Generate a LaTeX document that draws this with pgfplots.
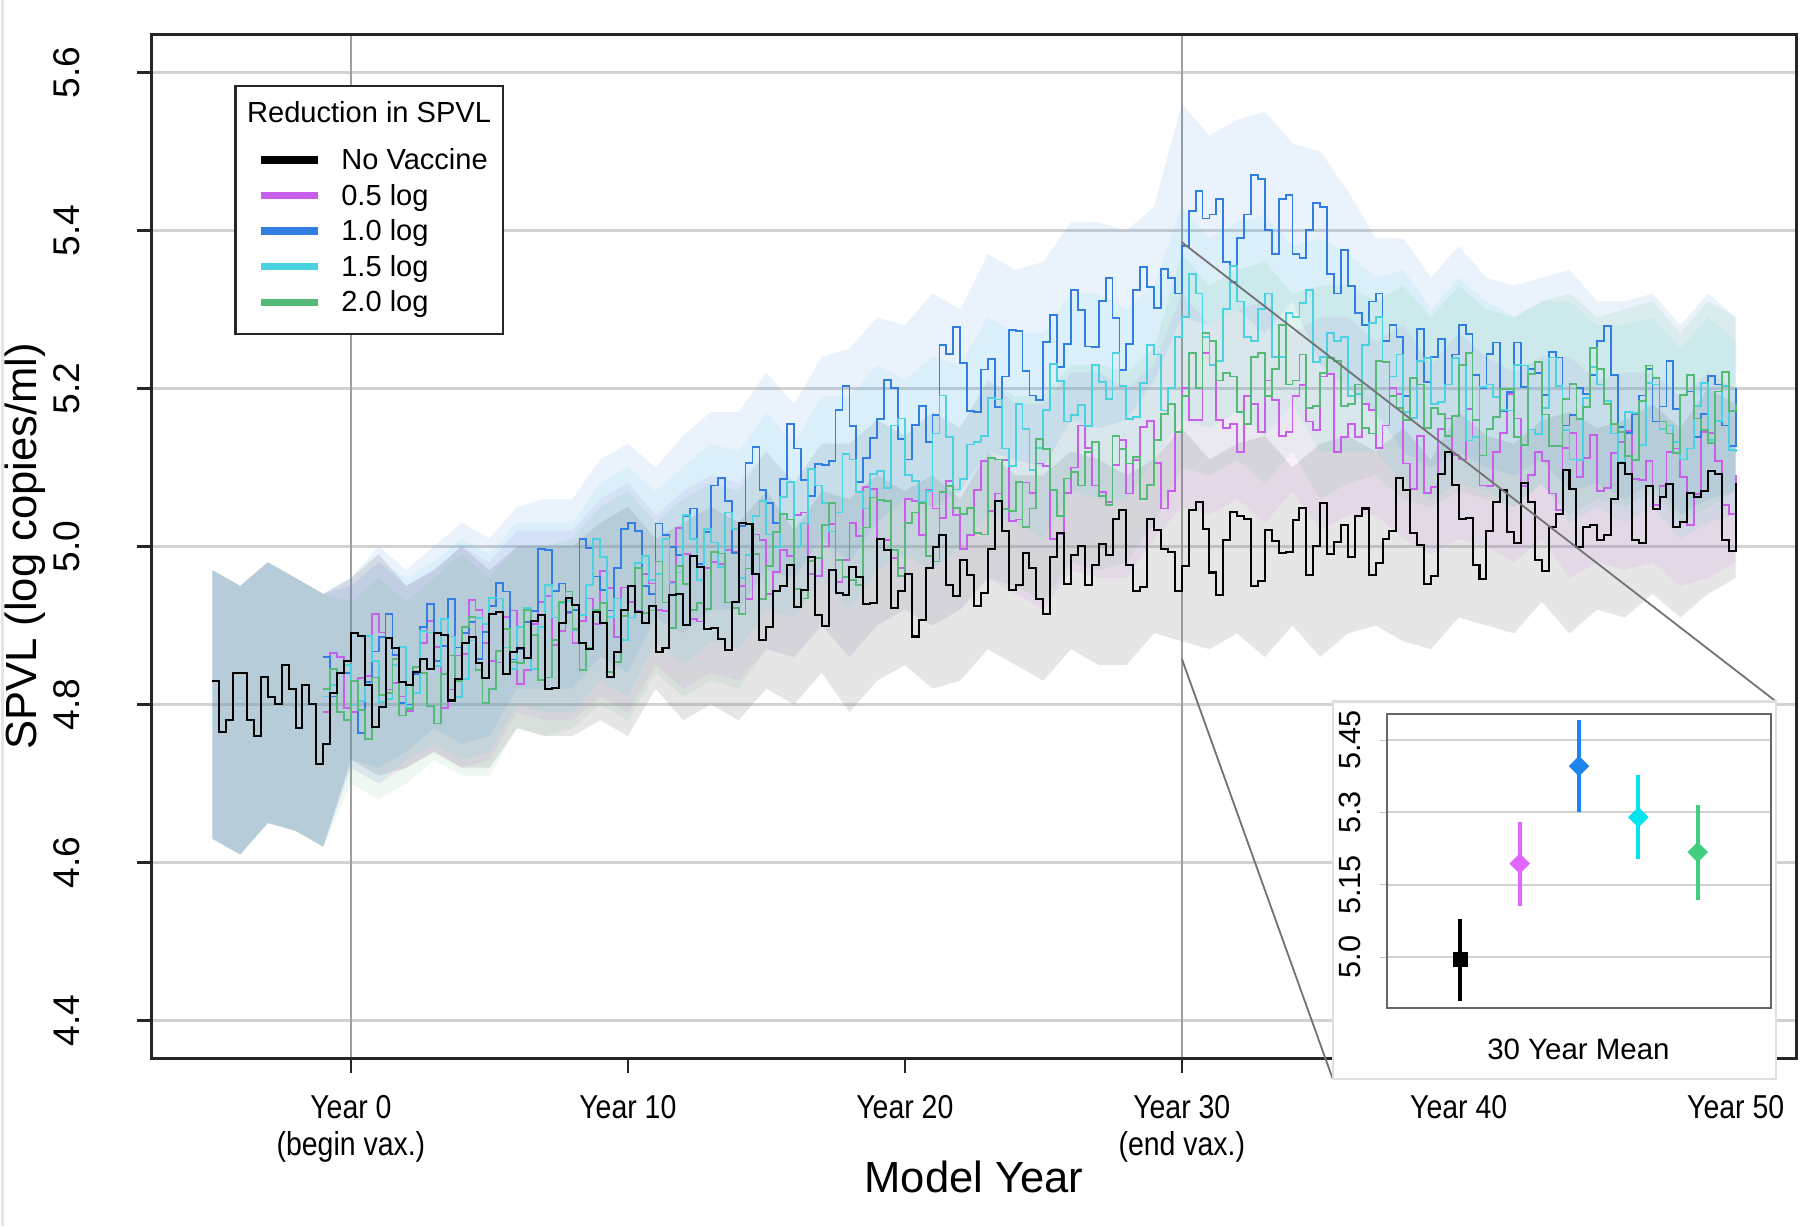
\documentclass[border=0pt]{standalone}
\usepackage{fontspec}
\setmainfont{Liberation Sans}
\newfontfamily\narrowfont{Liberation Sans}[FakeStretch=0.86]
\usepackage{pgfplots}
\pgfplotsset{compat=1.18}
\usepackage{pgfplotstable}
\usepgfplotslibrary{fillbetween}

\definecolor{magL}{RGB}{200,95,235}
\definecolor{bluL}{RGB}{50,125,225}
\definecolor{cyaL}{RGB}{75,210,225}
\definecolor{grnL}{RGB}{85,185,120}
\definecolor{magI}{RGB}{224,102,255}
\definecolor{bluI}{RGB}{28,134,238}
\definecolor{cyaI}{RGB}{0,229,238}
\definecolor{grnI}{RGB}{67,205,128}

% mean SPVL per quarter year: k = no vaccine, m = 0.5 log, b = 1.0 log, c = 1.5 log, g = 2.0 log
\pgfplotstableread{
x k m b c g
-5 4.83 nan nan nan nan
-4.75 4.765 nan nan nan nan
-4.5 4.78 nan nan nan nan
-4.25 4.84 nan nan nan nan
-4 4.84 nan nan nan nan
-3.75 4.78 nan nan nan nan
-3.5 4.76 nan nan nan nan
-3.25 4.835 nan nan nan nan
-3 4.81 nan nan nan nan
-2.75 4.80 nan nan nan nan
-2.5 4.85 nan nan nan nan
-2.25 4.82 nan nan nan nan
-2 4.77 nan nan nan nan
-1.75 4.825 nan nan nan nan
-1.5 4.80 nan nan nan nan
-1.25 4.725 nan nan nan nan
-1 4.75 4.79 4.86 4.81 4.82
-0.75 4.815 4.865 4.81 4.825 4.845
-0.5 4.84 4.86 4.84 4.84 4.79
-0.25 4.855 4.795 4.84 4.85 4.78
0 4.89 4.79 4.80 4.80 4.83
0.25 4.887 4.833 4.764 4.804 4.793
0.5 4.824 4.836 4.828 4.887 4.756
0.75 4.771 4.914 4.867 4.855 4.834
1 4.797 4.891 4.885 4.803 4.812
1.25 4.884 4.819 4.914 4.807 4.815
1.5 4.871 4.827 4.863 4.850 4.858
1.75 4.828 4.810 4.802 4.873 4.786
2 4.824 4.792 4.800 4.796 4.794
2.25 4.841 4.815 4.839 4.815 4.847
2.5 4.858 4.878 4.898 4.893 4.840
2.75 4.845 4.906 4.927 4.891 4.798
3 4.891 4.873 4.855 4.849 4.776
3.25 4.888 4.796 4.874 4.908 4.839
3.5 4.805 4.819 4.933 4.886 4.862
3.75 4.832 4.862 4.872 4.809 4.830
4 4.878 4.864 4.890 4.832 4.898
4.25 4.885 4.932 4.904 4.881 4.911
4.5 4.852 4.920 4.858 4.909 4.844
4.75 4.834 4.878 4.892 4.902 4.802
5 4.915 4.855 4.925 4.935 4.820
5.25 4.917 4.853 4.954 4.934 4.868
5.5 4.839 4.911 4.943 4.872 4.896
5.75 4.866 4.919 4.857 4.845 4.854
6 4.872 4.826 4.870 4.898 4.852
6.25 4.859 4.844 4.904 4.922 4.920
6.5 4.906 4.902 4.918 4.845 4.888
6.75 4.913 4.930 4.997 4.898 4.831
7 4.819 4.937 4.995 4.951 4.834
7.25 4.821 4.875 4.944 4.910 4.882
7.5 4.903 4.893 4.953 4.928 4.930
7.75 4.935 4.916 4.917 4.931 4.943
8 4.926 4.878 4.920 4.894 4.896
8.25 4.878 4.906 5.009 4.913 4.844
8.5 4.870 4.934 4.998 4.951 4.872
8.75 4.917 4.902 4.962 5.009 4.920
9 4.903 4.969 4.945 4.987 4.928
9.25 4.835 4.947 4.919 4.911 4.841
9.5 4.867 4.885 4.973 4.934 4.854
9.75 4.919 4.948 5.022 4.882 4.912
10 4.950 4.930 5.030 4.910 4.950
10.25 4.917 4.918 5.020 4.979 4.973
10.5 4.903 4.965 4.950 4.988 4.916
10.75 4.925 4.953 4.940 4.957 4.919
11 4.866 4.920 5.029 4.965 4.981
11.25 4.872 4.918 5.014 5.009 4.929
11.5 4.938 4.955 4.999 4.953 4.897
11.75 4.940 5.023 4.989 4.967 4.975
12 4.901 4.990 5.038 5.040 4.952
12.25 4.988 4.908 5.048 5.009 4.920
12.5 4.974 4.905 4.978 4.958 4.928
12.75 4.896 4.973 5.018 5.022 4.921
13 4.897 4.980 5.077 5.005 4.993
13.25 4.883 4.978 5.087 4.974 4.991
13.5 4.869 4.995 5.057 5.043 4.929
13.75 4.930 4.993 4.992 5.022 4.922
14 5.030 4.950 5.026 4.960 4.914
14.25 5.028 4.933 5.106 4.989 4.972
14.5 4.965 5.015 5.126 5.038 4.990
14.75 4.882 5.008 5.071 5.057 4.933
15 4.898 4.940 5.055 5.015 4.975
15.25 4.944 4.968 5.030 4.999 5.018
15.5 4.950 4.995 5.085 5.063 5.041
15.75 4.977 4.988 5.155 5.082 5.034
16 4.923 5.040 5.124 5.000 4.946
16.25 4.945 5.043 5.084 5.029 4.934
16.5 4.986 4.965 5.064 5.098 4.982
16.75 4.913 4.963 5.104 5.077 4.985
17 4.899 5.000 5.103 5.055 5.027
17.25 4.970 5.028 5.108 5.019 5.055
17.5 4.941 4.955 5.173 5.043 4.983
17.75 4.938 4.983 5.203 5.117 4.961
18 4.974 5.030 5.152 5.110 4.958
18.25 4.961 5.013 5.082 5.069 4.951
18.5 4.927 5.075 5.112 5.048 5.024
18.75 4.929 5.073 5.137 5.092 5.062
19 5.010 5.010 5.161 5.095 5.059
19.25 4.996 5.008 5.211 5.074 5.057
19.5 4.922 4.985 5.201 5.153 4.995
19.75 4.944 4.973 5.136 5.162 4.963
20 4.965 5.060 5.110 5.090 5.030
20.25 4.886 5.057 5.154 5.083 5.043
20.5 4.907 5.014 5.178 5.056 5.055
20.75 4.973 5.071 5.132 5.070 4.988
21 4.999 5.048 5.166 5.143 4.981
21.25 5.015 5.036 5.255 5.191 5.069
21.5 4.951 5.083 5.244 5.139 5.076
21.75 4.937 5.040 5.278 5.072 5.049
22 4.983 4.997 5.232 5.085 5.041
22.25 4.964 5.014 5.171 5.129 5.049
22.5 4.925 5.071 5.170 5.132 5.017
22.75 4.941 5.108 5.224 5.140 5.015
23 4.997 5.045 5.237 5.188 5.112
23.25 5.058 5.067 5.176 5.186 5.110
23.5 5.019 5.109 5.215 5.124 5.047
23.75 4.945 5.032 5.274 5.102 5.045
24 4.951 5.034 5.273 5.180 5.082
24.25 4.992 5.081 5.222 5.149 5.025
24.5 4.973 5.068 5.191 5.097 5.048
24.75 4.934 5.105 5.185 5.125 5.136
25 4.915 5.102 5.259 5.173 5.123
25.25 4.986 5.009 5.293 5.231 5.071
25.5 5.017 5.016 5.227 5.209 5.038
25.75 4.953 5.068 5.256 5.158 5.086
26 4.989 5.100 5.325 5.166 5.094
26.25 5.000 5.153 5.299 5.179 5.077
26.5 4.951 5.125 5.253 5.152 5.119
26.75 4.977 5.077 5.252 5.230 5.132
27 5.003 5.069 5.311 5.208 5.064
27.25 4.989 5.056 5.340 5.187 5.052
27.5 5.035 5.103 5.289 5.245 5.140
27.75 5.046 5.135 5.223 5.203 5.123
28 4.977 5.067 5.256 5.161 5.105
28.25 4.943 5.109 5.325 5.164 5.113
28.5 4.949 5.151 5.354 5.207 5.060
28.75 5.035 5.159 5.328 5.255 5.078
29 5.021 5.106 5.302 5.243 5.135
29.25 4.997 5.048 5.351 5.172 5.168
29.5 4.993 5.070 5.340 5.200 5.180
29.75 4.944 5.145 5.320 5.265 5.145
30 4.975 5.200 5.380 5.290 5.190
30.25 5.046 5.160 5.425 5.345 5.245
30.5 5.056 5.160 5.450 5.320 5.200
30.75 5.022 5.245 5.415 5.265 5.270
31 4.967 5.230 5.420 5.230 5.260
31.25 4.938 5.160 5.440 5.235 5.210
31.5 5.008 5.150 5.360 5.300 5.220
31.75 5.044 5.155 5.335 5.355 5.215
32 5.039 5.120 5.390 5.310 5.170
32.25 5.035 5.190 5.420 5.265 5.155
32.5 4.950 5.180 5.470 5.260 5.240
32.75 4.956 5.145 5.465 5.300 5.245
33 5.021 5.210 5.400 5.320 5.190
33.25 5.007 5.185 5.370 5.240 5.225
33.5 4.992 5.140 5.440 5.240 5.280
33.75 4.993 5.145 5.445 5.295 5.205
34 5.033 5.190 5.370 5.290 5.210
34.25 5.049 5.204 5.365 5.308 5.243
34.5 4.964 5.158 5.400 5.325 5.175
34.75 5.000 5.147 5.435 5.233 5.178
35 5.055 5.215 5.430 5.240 5.220
35.25 4.991 5.218 5.345 5.270 5.238
35.5 5.006 5.120 5.320 5.260 5.235
35.75 5.027 5.138 5.375 5.265 5.178
36 4.987 5.155 5.330 5.190 5.180
36.25 5.038 5.138 5.295 5.193 5.205
36.5 5.048 5.180 5.280 5.255 5.150
36.75 4.964 5.173 5.310 5.283 5.143
37 4.979 5.125 5.320 5.290 5.235
37.25 5.010 5.153 5.260 5.233 5.233
37.5 5.020 5.200 5.280 5.215 5.190
37.75 5.086 5.193 5.265 5.243 5.175
38 5.071 5.105 5.190 5.170 5.160
38.25 5.017 5.073 5.213 5.163 5.213
38.5 5.002 5.140 5.275 5.235 5.205
38.75 4.953 5.068 5.208 5.238 5.150
39 4.963 5.075 5.240 5.180 5.175
39.25 5.092 5.149 5.263 5.183 5.168
39.5 5.120 5.162 5.205 5.205 5.140
39.75 5.078 5.116 5.243 5.238 5.165
40 5.035 5.110 5.280 5.230 5.230
40.25 5.036 5.174 5.269 5.134 5.245
40.5 4.977 5.138 5.217 5.138 5.160
40.75 4.959 5.077 5.201 5.202 5.115
41 5.020 5.076 5.244 5.205 5.149
41.25 5.056 5.120 5.258 5.189 5.164
41.5 5.072 5.144 5.171 5.173 5.199
41.75 5.018 5.193 5.195 5.172 5.199
42 5.004 5.162 5.258 5.230 5.138
42.25 5.080 5.076 5.202 5.229 5.128
42.5 5.056 5.090 5.225 5.148 5.218
42.75 4.983 5.119 5.219 5.142 5.233
43 4.969 5.108 5.192 5.175 5.167
43.25 5.025 5.067 5.246 5.239 5.127
43.5 5.041 5.046 5.239 5.203 5.127
43.75 5.097 5.125 5.153 5.147 5.187
44 5.073 5.144 5.166 5.110 5.206
44.25 4.999 5.088 5.200 5.109 5.161
44.5 5.025 5.112 5.193 5.188 5.176
44.75 5.027 5.141 5.217 5.227 5.251
45 5.008 5.070 5.260 5.205 5.225
45.25 5.014 5.074 5.279 5.184 5.180
45.5 5.060 5.118 5.217 5.143 5.155
45.75 5.106 5.132 5.151 5.107 5.145
46 5.092 5.146 5.144 5.170 5.114
46.25 5.008 5.085 5.168 5.169 5.109
46.5 5.004 5.084 5.191 5.128 5.184
46.75 5.076 5.108 5.225 5.207 5.229
47 5.047 5.052 5.158 5.205 5.213
47.25 5.063 5.076 5.177 5.149 5.158
47.5 5.079 5.120 5.235 5.153 5.143
47.75 5.025 5.124 5.174 5.132 5.118
48 5.031 5.088 5.192 5.110 5.192
48.25 5.067 5.027 5.196 5.124 5.217
48.5 5.063 5.066 5.139 5.178 5.162
48.75 5.070 5.145 5.168 5.207 5.147
49 5.096 5.144 5.216 5.135 5.131
49.25 5.092 5.108 5.205 5.159 5.196
49.5 5.008 5.052 5.153 5.203 5.221
49.75 4.994 5.041 5.127 5.122 5.171
50 5.080 5.090 5.200 5.120 5.180
}\spvl

% yearly uncertainty bands (lower / upper) for each scenario
\pgfplotstableread{
x klo khi mlo mhi blo bhi clo chi glo ghi
-5 4.63 4.97 4.63 4.97 4.63 4.97 4.63 4.97 4.63 4.97
-4 4.61 4.95 4.61 4.95 4.61 4.95 4.61 4.95 4.61 4.95
-3 4.65 4.98 4.65 4.98 4.65 4.98 4.65 4.98 4.65 4.98
-2 4.64 4.96 4.64 4.96 4.64 4.96 4.64 4.96 4.64 4.96
-1 4.62 4.94 4.62 4.94 4.62 4.94 4.62 4.94 4.62 4.94
0 4.73 4.96 4.72 4.95 4.73 4.96 4.72 4.95 4.70 4.93
1 4.71 4.99 4.70 4.98 4.72 5.00 4.70 4.98 4.68 4.96
2 4.72 4.95 4.72 4.95 4.74 4.97 4.73 4.96 4.70 4.93
3 4.74 4.97 4.74 4.97 4.77 5.00 4.75 4.98 4.73 4.96
4 4.72 5.00 4.72 5.00 4.75 5.03 4.73 5.01 4.71 4.99
5 4.72 4.97 4.73 4.98 4.76 5.01 4.74 4.99 4.71 4.96
6 4.77 5.00 4.79 5.02 4.82 5.05 4.80 5.03 4.77 5.00
7 4.76 5.00 4.78 5.02 4.82 5.06 4.79 5.03 4.76 5.00
8 4.76 5.00 4.78 5.02 4.82 5.06 4.79 5.03 4.77 5.01
9 4.78 5.03 4.81 5.06 4.86 5.11 4.83 5.08 4.80 5.05
10 4.76 5.05 4.79 5.08 4.84 5.13 4.81 5.10 4.78 5.07
11 4.82 5.01 4.85 5.04 4.91 5.10 4.88 5.07 4.84 5.03
12 4.78 5.03 4.82 5.07 4.89 5.14 4.85 5.10 4.81 5.06
13 4.80 5.05 4.84 5.09 4.92 5.17 4.88 5.13 4.83 5.08
14 4.78 5.03 4.83 5.08 4.92 5.17 4.87 5.12 4.82 5.07
15 4.82 5.07 4.87 5.12 4.97 5.22 4.92 5.17 4.87 5.12
16 4.80 5.02 4.86 5.08 4.96 5.18 4.91 5.13 4.86 5.08
17 4.84 5.07 4.90 5.13 5.01 5.24 4.96 5.19 4.90 5.13
18 4.79 5.06 4.86 5.13 4.98 5.25 4.92 5.19 4.86 5.13
19 4.83 5.09 4.90 5.16 5.03 5.29 4.97 5.23 4.90 5.16
20 4.85 5.07 4.92 5.14 5.06 5.28 4.99 5.21 4.92 5.14
21 4.82 5.09 4.90 5.17 5.05 5.32 4.97 5.24 4.90 5.17
22 4.83 5.06 4.92 5.15 5.07 5.30 5.00 5.23 4.92 5.15
23 4.87 5.12 4.96 5.21 5.12 5.37 5.04 5.29 4.96 5.21
24 4.85 5.09 4.94 5.18 5.11 5.35 5.03 5.27 4.95 5.19
25 4.83 5.09 4.92 5.18 5.10 5.36 5.01 5.27 4.93 5.19
26 4.87 5.12 4.97 5.22 5.16 5.41 5.07 5.32 4.98 5.23
27 4.85 5.11 4.96 5.22 5.15 5.41 5.06 5.32 4.97 5.23
28 4.85 5.09 4.96 5.20 5.16 5.40 5.06 5.30 4.98 5.22
29 4.89 5.11 5.01 5.23 5.21 5.43 5.11 5.33 5.03 5.25
30 4.88 5.15 5.05 5.32 5.29 5.56 5.16 5.43 5.10 5.37
31 4.87 5.11 5.04 5.28 5.28 5.52 5.15 5.39 5.09 5.33
32 4.89 5.13 5.06 5.30 5.30 5.54 5.17 5.41 5.11 5.35
33 4.86 5.14 5.03 5.31 5.27 5.55 5.14 5.42 5.08 5.36
34 4.90 5.10 5.07 5.27 5.31 5.51 5.18 5.38 5.12 5.32
35 4.86 5.13 5.02 5.29 5.23 5.50 5.12 5.39 5.06 5.33
36 4.89 5.14 5.04 5.29 5.20 5.45 5.12 5.37 5.08 5.33
37 4.90 5.12 5.04 5.26 5.17 5.39 5.12 5.34 5.09 5.31
38 4.88 5.15 5.01 5.28 5.12 5.39 5.08 5.35 5.06 5.33
39 4.87 5.11 4.99 5.23 5.10 5.34 5.06 5.30 5.05 5.29
40 4.91 5.17 5.01 5.27 5.12 5.38 5.08 5.34 5.07 5.33
41 4.90 5.14 5.00 5.24 5.10 5.34 5.07 5.31 5.06 5.30
42 4.89 5.13 4.98 5.22 5.09 5.33 5.05 5.29 5.05 5.29
43 4.93 5.16 5.01 5.24 5.11 5.34 5.08 5.31 5.08 5.31
44 4.89 5.17 4.96 5.24 5.07 5.35 5.03 5.31 5.04 5.32
45 4.92 5.15 4.98 5.21 5.08 5.31 5.05 5.28 5.06 5.29
46 4.91 5.16 4.97 5.22 5.06 5.31 5.03 5.28 5.05 5.30
47 4.94 5.18 4.98 5.22 5.08 5.32 5.05 5.29 5.07 5.31
48 4.91 5.15 4.95 5.19 5.04 5.28 5.01 5.25 5.03 5.27
49 4.94 5.20 4.96 5.22 5.06 5.32 5.03 5.29 5.05 5.31
50 4.96 5.18 4.98 5.20 5.07 5.29 5.04 5.26 5.07 5.29
}\bands

\begin{document}
\begin{tikzpicture}
\begin{axis}[
  name=main, at={(0cm,0cm)}, anchor=south west,
  scale only axis, width=14.33cm, height=8.92cm,
  xmin=-7.2, xmax=52.2, ymin=4.352, ymax=5.648,
  axis line style={line width=0.6pt, black!85},
  tick align=outside, tick pos=left,
  major tick length=0.13cm,
  tick style={line width=0.6pt, black!85},
  xtick={0,10,20,30,40,50},
  xticklabels={{Year 0\\(begin vax.)},{Year 10},{Year 20},{Year 30\\(end vax.)},{Year 40},{Year 50}},
  x tick label style={align=center, font=\narrowfont\fontsize{8.2}{9.1}\selectfont, yshift=-0.07cm},
  ytick={4.4,4.6,4.8,5.0,5.2,5.4,5.6},
  y tick label style={xshift=-0.37cm, rotate=90, anchor=south, font=\fontsize{9.2}{11}\selectfont},
  yticklabel={\pgfmathprintnumber[fixed,fixed zerofill,precision=1,assume math mode=true]{\tick}},
  ymajorgrids, major grid style={gray!35, line width=0.6pt},
  extra x ticks={0,30}, extra x tick labels={},
  extra x tick style={xmajorgrids=true, major grid style={gray!75, line width=0.5pt}, major tick length=0pt},
  xlabel={Model Year}, ylabel={SPVL (log copies/ml)},
  xlabel style={at={(axis description cs:0.5,-0.1155)}, anchor=center, font=\fontsize{10.8}{13}\selectfont},
  ylabel style={at={(axis description cs:-0.0768,0.5)}, anchor=center, font=\fontsize{10.8}{13}\selectfont},
]
% bands
\addplot[draw=none, forget plot, name path=khi] table[x=x,y=khi]{\bands};
\addplot[draw=none, forget plot, name path=klo] table[x=x,y=klo]{\bands};
\addplot[draw=none, forget plot, name path=mhi] table[x=x,y=mhi]{\bands};
\addplot[draw=none, forget plot, name path=mlo] table[x=x,y=mlo]{\bands};
\addplot[draw=none, forget plot, name path=bhi] table[x=x,y=bhi]{\bands};
\addplot[draw=none, forget plot, name path=blo] table[x=x,y=blo]{\bands};
\addplot[draw=none, forget plot, name path=chi] table[x=x,y=chi]{\bands};
\addplot[draw=none, forget plot, name path=clo] table[x=x,y=clo]{\bands};
\addplot[draw=none, forget plot, name path=ghi] table[x=x,y=ghi]{\bands};
\addplot[draw=none, forget plot, name path=glo] table[x=x,y=glo]{\bands};
\addplot[fill=gray, fill opacity=0.2, draw=none] fill between[of=khi and klo];
\addplot[fill=magL, fill opacity=0.1, draw=none] fill between[of=mhi and mlo];
\addplot[fill=bluL, fill opacity=0.1, draw=none] fill between[of=bhi and blo];
\addplot[fill=cyaL, fill opacity=0.1, draw=none] fill between[of=chi and clo];
\addplot[fill=grnL, fill opacity=0.1, draw=none] fill between[of=ghi and glo];
% lines
\addplot[const plot, magL, line width=0.45pt] table[x=x,y=m]{\spvl};
\addplot[const plot, bluL, line width=0.45pt] table[x=x,y=b]{\spvl};
\addplot[const plot, cyaL, line width=0.45pt] table[x=x,y=c]{\spvl};
\addplot[const plot, grnL, line width=0.45pt] table[x=x,y=g]{\spvl};
\addplot[const plot, black, line width=0.5pt] table[x=x,y=k]{\spvl};
\coordinate (zt) at (axis cs:30,5.385);
\coordinate (zb) at (axis cs:30,4.858);
\end{axis}

% legend
\node[draw=black!85, fill=white, line width=0.6pt, anchor=north west,
      minimum width=2.33cm, minimum height=2.16cm, inner sep=0pt,
      font=\fontsize{7.2}{8.82}\selectfont] at (0.72,8.48) {%
  \begin{tabular}{@{\hspace{0.12cm}}l@{\hspace{0.2cm}}l@{}}
  \multicolumn{2}{@{}l@{}}{Reduction in SPVL}\\[0.1cm]
  \textcolor{black}{\rule[1.5pt]{0.5cm}{1.8pt}} & No Vaccine\\
  \textcolor{magL}{\rule[1.5pt]{0.5cm}{1.8pt}} & 0.5 log\\
  \textcolor{bluL}{\rule[1.5pt]{0.5cm}{1.8pt}} & 1.0 log\\
  \textcolor{cyaL}{\rule[1.5pt]{0.5cm}{1.8pt}} & 1.5 log\\
  \textcolor{grnL}{\rule[1.5pt]{0.5cm}{1.8pt}} & 2.0 log
  \end{tabular}};

% zoom lines and inset panel
\draw[black!55, line width=0.45pt] (zt) -- (14.15,3.11);
\draw[black!55, line width=0.45pt] (zb) -- (10.29,-0.18);
\draw[gray!25, fill=white, line width=0.6pt] (10.29,-0.18) rectangle (14.15,3.11);

\begin{axis}[
  name=inset, at={(10.76cm,0.44cm)}, anchor=south west,
  scale only axis, width=3.35cm, height=2.56cm,
  xmin=-0.24, xmax=6.24, ymin=4.895, ymax=5.504,
  xtick=\empty,
  ytick={5.0,5.15,5.3,5.45}, yticklabels={5.0,5.15,5.3,5.45},
  y tick label style={xshift=-0.04cm, rotate=90, anchor=south, font=\fontsize{7.6}{9}\selectfont},
  tick align=outside, ytick pos=left, major tick length=0.06cm,
  tick style={gray!50},
  ymajorgrids, major grid style={gray!35, line width=0.5pt},
  axis line style={black!60, line width=0.5pt},
  xlabel={30 Year Mean},
  xlabel style={at={(axis description cs:0.4985,-0.14)}, anchor=center, font=\fontsize{7.3}{8.5}\selectfont},
  error bars/y dir=both, error bars/y explicit, error bars/error mark=none,
]
\addplot[only marks, black, mark=square*, mark size=1.7pt,
  error bars/error bar style={line width=1pt, black}]
  coordinates {(1,4.995) += (0,0.084) -= (0,0.086)};
\addplot[only marks, magI, mark=square*, mark size=1.6pt, mark options={rotate=45},
  error bars/error bar style={line width=1pt, magI}]
  coordinates {(2,5.194) += (0,0.087) -= (0,0.087)};
\addplot[only marks, bluI, mark=square*, mark size=1.6pt, mark options={rotate=45},
  error bars/error bar style={line width=1pt, bluI}]
  coordinates {(3,5.396) += (0,0.095) -= (0,0.094)};
\addplot[only marks, cyaI, mark=square*, mark size=1.6pt, mark options={rotate=45},
  error bars/error bar style={line width=1pt, cyaI}]
  coordinates {(4,5.290) += (0,0.087) -= (0,0.086)};
\addplot[only marks, grnI, mark=square*, mark size=1.6pt, mark options={rotate=45},
  error bars/error bar style={line width=1pt, grnI}]
  coordinates {(5,5.218) += (0,0.097) -= (0,0.100)};
\end{axis}

\draw[gray!20, line width=0.6pt] (-1.30,-1.46) -- (-1.30,9.22);
\pgfresetboundingbox
\path (-1.32,-1.46) rectangle (14.36,9.22);
\end{tikzpicture}
\end{document}
